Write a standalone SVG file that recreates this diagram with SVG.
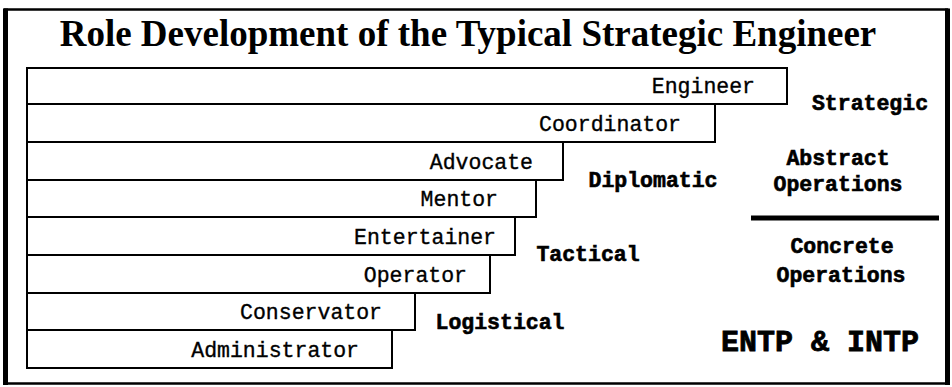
<svg xmlns="http://www.w3.org/2000/svg" width="952" height="387" viewBox="0 0 952 387">
<style>
.bar{fill:#fff;stroke:#000;stroke-width:2}
.bl{font-family:"Liberation Mono","Courier New",monospace;font-size:21.5px;fill:#000;stroke:#000;stroke-width:0.35;text-anchor:end}
.lab{font-family:"Liberation Mono","Courier New",monospace;font-size:21.5px;font-weight:bold;fill:#000;stroke:#000;stroke-width:0.6;text-anchor:middle}
.title{font-family:"Liberation Serif","Times New Roman",serif;font-size:37px;font-weight:bold;fill:#000;text-anchor:middle}
</style>
<rect x="0" y="0" width="952" height="387" fill="#fff"/>
<g id="frame">
<rect x="5" y="9.5" width="942" height="374" fill="none" stroke="#000" stroke-width="2.5"/>
<line x1="5.5" y1="8.5" x2="5.5" y2="385" stroke="#000" stroke-width="5"/>
<line x1="947.5" y1="8.5" x2="947.5" y2="385" stroke="#000" stroke-width="5"/>
</g>
<text id="title" class="title" x="468" y="46">Role Development of the Typical Strategic Engineer</text>
<g id="administrator"><rect class="bar" x="27" y="330" width="365" height="38"/><text class="bl" x="359" y="357">Administrator</text></g>
<g id="conservator"><rect class="bar" x="27" y="293" width="388" height="37"/><text class="bl" x="382" y="319">Conservator</text></g>
<g id="operator"><rect class="bar" x="27" y="255" width="463" height="38"/><text class="bl" x="467" y="282">Operator</text></g>
<g id="entertainer"><rect class="bar" x="27" y="217" width="488" height="38"/><text class="bl" x="496" y="244">Entertainer</text></g>
<g id="mentor"><rect class="bar" x="27" y="180" width="509" height="37"/><text class="bl" x="498" y="206">Mentor</text></g>
<g id="advocate"><rect class="bar" x="27" y="142" width="536" height="38"/><text class="bl" x="533" y="169">Advocate</text></g>
<g id="coordinator"><rect class="bar" x="27" y="104" width="688" height="38"/><text class="bl" x="681" y="131">Coordinator</text></g>
<g id="engineer"><rect class="bar" x="27" y="68" width="760" height="36"/><text class="bl" x="755" y="93">Engineer</text></g>
<g id="strategic"><text class="lab" x="870" y="110">Strategic</text></g>
<g id="diplomatic"><text class="lab" x="653" y="187">Diplomatic</text></g>
<g id="tactical"><text class="lab" x="588" y="261">Tactical</text></g>
<g id="logistical"><text class="lab" x="500" y="329">Logistical</text></g>
<g id="abstract-operations"><text class="lab" x="838" y="165">Abstract</text><text class="lab" x="838" y="191">Operations</text></g>
<g id="connectors"><line id="divider" x1="751" y1="218" x2="939" y2="218" stroke="#000" stroke-width="5"/></g>
<g id="concrete-operations"><text class="lab" x="842" y="253">Concrete</text><text class="lab" x="841" y="282">Operations</text></g>
<g id="types"><text class="lab" x="820" y="351" style="font-size:30px;stroke-width:0.8">ENTP &amp; INTP</text></g>
</svg>
